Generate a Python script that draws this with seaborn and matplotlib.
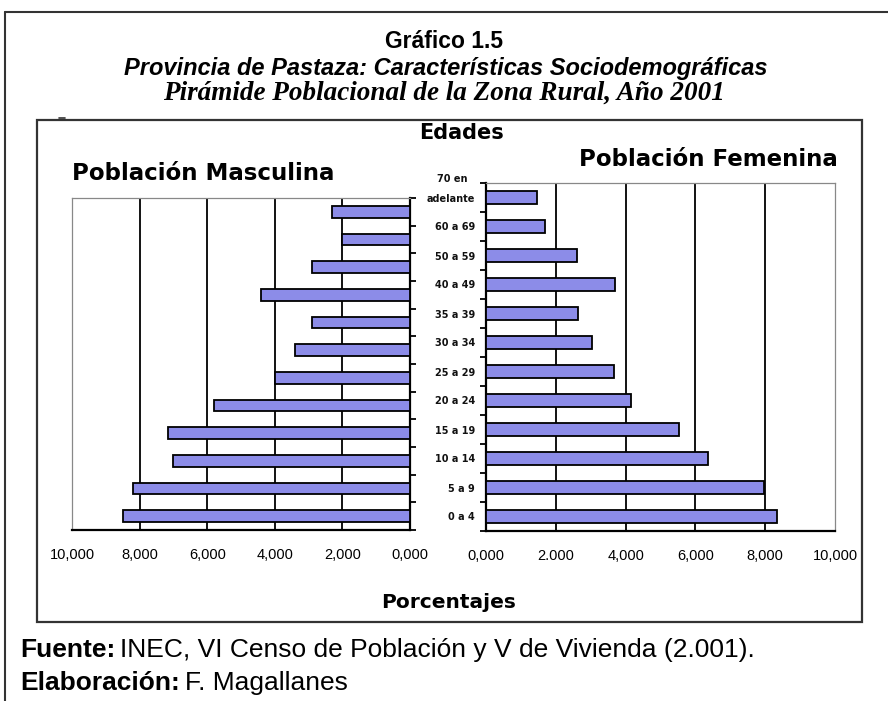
import matplotlib
matplotlib.use('Agg')
import matplotlib.pyplot as plt
from matplotlib.lines import Line2D
from matplotlib.patches import Rectangle
import seaborn as sns
import pandas as pd

# data (percent of rural population, Pastaza 2001)
edades = ['70 en adelante', '60 a 69', '50 a 59', '40 a 49', '35 a 39', '30 a 34',
          '25 a 29', '20 a 24', '15 a 19', '10 a 14', '5 a 9', '0 a 4']
masculina = [2.3, 2.0, 2.9, 4.4, 2.9, 3.4, 4.0, 5.8, 7.15, 7.0, 8.2, 8.5]
femenina = [1.45, 1.7, 2.6, 3.7, 2.65, 3.05, 3.68, 4.15, 5.52, 6.35, 7.97, 8.33]
ticks = [0, 2, 4, 6, 8, 10]
left_ticklabels = ['0,000', '2,000', '4,000', '6,000', '8,000', '10,000']
right_ticklabels = ['0,000', '2.000', '4,000', '6,000', '8,000', '10,000']

df = pd.DataFrame({'edad': edades, 'M': masculina, 'F': femenina})

sns.set_style('white')
plt.rcParams['font.family'] = ['DejaVu Sans']
plt.rcParams['text.color'] = 'black'
plt.rcParams['xtick.color'] = 'black'
plt.rcParams['ytick.color'] = 'black'

W, H = 888, 701
fig = plt.figure(figsize=(W / 100, H / 100), dpi=100)
fig.patch.set_facecolor('white')


def box(x0, y0, x1, y1):
    # pixel box (top-left origin) -> figure fraction rect
    return [x0 / W, 1 - y1 / H, (x1 - x0) / W, (y1 - y0) / H]


def fx(x):
    return x / W


def fy(y):
    return 1 - y / H


bar_color = '#8c8ce8'
grid_kw = dict(color='black', lw=1.3, zorder=0)

axL = fig.add_axes(box(72, 198, 410, 530))
axR = fig.add_axes(box(486, 183, 835, 531))

sns.barplot(data=df, x='M', y='edad', orient='h', color=bar_color, saturation=1,
            edgecolor='black', linewidth=1.3, width=0.42, ax=axL, zorder=3)
sns.barplot(data=df, x='F', y='edad', orient='h', color=bar_color, saturation=1,
            edgecolor='black', linewidth=1.3, width=0.42, ax=axR, zorder=3)

n = len(edades)
bounds = [i - 0.5 for i in range(n + 1)]

for ax in (axL, axR):
    ax.set_ylim(n - 0.5, -0.5)
    ax.set_xlabel('')
    ax.set_ylabel('')
    ax.set_facecolor('white')
    for g in ticks[1:-1]:
        ax.axvline(g, **grid_kw)
    ax.set_xticks(ticks)
    ax.set_yticks(bounds, minor=True)
    ax.tick_params(axis='x', direction='out', length=4, width=1.3, color='black',
                   labelsize=10.5, pad=9)
    ax.spines['bottom'].set_color('black')
    ax.spines['bottom'].set_linewidth(1.6)
    ax.spines['top'].set_color('#888888')
    ax.spines['top'].set_linewidth(0.9)

# left panel: mirrored
axL.set_xlim(10, 0)
axL.set_xticklabels(left_ticklabels, family='Liberation Sans')
axL.yaxis.tick_right()
axL.set_yticks(range(n))
axL.set_yticklabels([])
axL.tick_params(axis='y', which='major', length=0)
axL.tick_params(axis='y', which='minor', direction='out', length=4, width=1.3,
                color='black', right=True, left=False)
axL.spines['right'].set_color('black')
axL.spines['right'].set_linewidth(1.6)
axL.spines['left'].set_color('#888888')
axL.spines['left'].set_linewidth(0.9)

# right panel
axR.set_xlim(0, 10)
axR.set_xticklabels(right_ticklabels, family='Liberation Sans')
axR.set_yticks(range(n))
labels = [e.replace('70 en ', '') for e in edades]
axR.set_yticklabels(labels, fontsize=7, fontweight='bold', color='#111111')
axR.tick_params(axis='y', which='major', length=0, pad=8)
axR.tick_params(axis='y', which='minor', direction='out', length=4, width=1.3,
                color='black', left=True)
axR.spines['left'].set_color('black')
axR.spines['left'].set_linewidth(1.6)
axR.spines['right'].set_color('#888888')
axR.spines['right'].set_linewidth(0.9)
axR.text(fx(452), -0.45, '70 en', transform=matplotlib.transforms.blended_transform_factory(
    fig.transFigure, axR.transData),
    ha='center', va='bottom', fontsize=7, fontweight='bold', color='#111111', clip_on=False)

# frames
fig.add_artist(Line2D([fx(5), fx(888)], [fy(12), fy(12)], color='#333333', lw=1.5))
fig.add_artist(Line2D([fx(5), fx(5)], [fy(12), fy(701)], color='#333333', lw=1.5))
fig.add_artist(Rectangle((fx(37), fy(622)), fx(862) - fx(37), fy(120) - fy(622),
                         fill=False, edgecolor='#333333', lw=1.6, transform=fig.transFigure))
fig.add_artist(Line2D([fx(59), fx(65)], [fy(118), fy(118)], color='#333333', lw=1.2))

# titles
fig.text(fx(444), fy(42), 'Gráfico 1.5', ha='center', va='center',
         family='Liberation Sans', fontweight='bold', fontsize=16.5)
fig.text(fx(446), fy(68), 'Provincia de Pastaza: Características Sociodemográficas',
         ha='center', va='center', family='Liberation Sans', fontweight='bold',
         style='italic', fontsize=17)
fig.text(fx(444), fy(93), 'Pirámide Poblacional de la Zona Rural, Año 2001',
         ha='center', va='center', family='Liberation Serif', fontweight='bold',
         style='italic', fontsize=19.5)

heavy = dict(fontweight='bold', color='black', va='center')
fig.text(fx(461), fy(133), 'Edades', ha='center', fontsize=15, **heavy)
fig.text(fx(72), fy(173), 'Población Masculina', ha='left', fontsize=16.5, **heavy)
fig.text(fx(838), fy(159), 'Población Femenina', ha='right', fontsize=16.5, **heavy)
fig.text(fx(449), fy(603), 'Porcentajes', ha='center', fontsize=14.5, **heavy)

# source
f1 = fig.text(fx(20), fy(650), 'Fuente:', ha='left', va='center',
              family='Liberation Sans', fontweight='bold', fontsize=19)
f2 = fig.text(fx(20), fy(683), 'Elaboración:', ha='left', va='center',
              family='Liberation Sans', fontweight='bold', fontsize=19)
fig.canvas.draw()
bb = f1.get_window_extent()
fig.text(bb.x1 / W + 5 / W, fy(650), 'INEC, VI Censo de Población y V de Vivienda (2.001).',
         ha='left', va='center', family='Liberation Sans', fontsize=19)
bb = f2.get_window_extent()
fig.text(bb.x1 / W + 5 / W, fy(683), 'F. Magallanes', ha='left', va='center',
         family='Liberation Sans', fontsize=19)

fig.savefig('out.png', dpi=100)
